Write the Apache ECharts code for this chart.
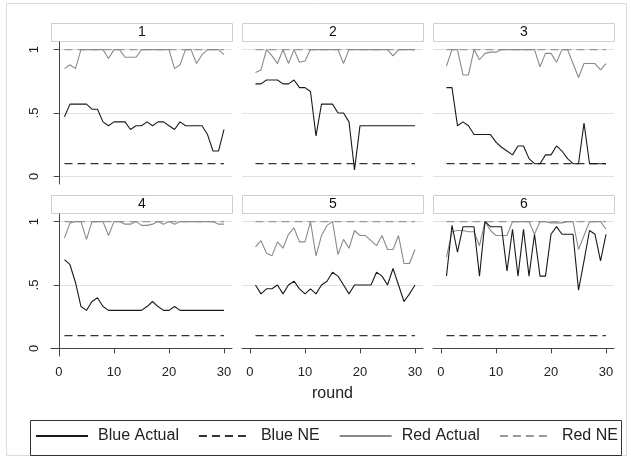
<!DOCTYPE html>
<html>
<head>
<meta charset="utf-8">
<script src="https://cdn.jsdelivr.net/npm/echarts@6/dist/echarts.min.js"></script>
<style>
  html, body { margin: 0; padding: 0; background: #fff; }
  #chart { width: 631px; height: 460px; }
</style>
</head>
<body>
<div id="chart"></div>
<script>
// rounds on the x axis
const rounds = [1, 2, 3, 4, 5, 6, 7, 8, 9, 10, 11, 12, 13, 14, 15, 16, 17, 18, 19, 20, 21, 22, 23, 24, 25, 26, 27, 28, 29, 30];
const panelNames = ['1', '2', '3', '4', '5', '6'];
const xTicks = [0, 10, 20, 30];
const yTicks = [0, 0.5, 1];

const blueNE = 0.1;
const redNE = 1;

const blue1 = [0.47, 0.57, 0.57, 0.57, 0.57, 0.53, 0.53, 0.43, 0.40, 0.43, 0.43, 0.43, 0.37, 0.40, 0.40, 0.43, 0.40, 0.43, 0.43, 0.40, 0.37, 0.43, 0.40, 0.40, 0.40, 0.40, 0.33, 0.20, 0.20, 0.37];
const red1 = [0.85, 0.88, 0.85, 1, 1, 1, 1, 1, 0.93, 1, 1, 0.94, 0.94, 0.94, 1, 1, 1, 1, 1, 1, 0.85, 0.88, 1, 1, 0.89, 0.96, 1, 1, 1, 0.96];

const blue2 = [0.73, 0.73, 0.76, 0.76, 0.76, 0.73, 0.73, 0.76, 0.70, 0.70, 0.67, 0.32, 0.57, 0.57, 0.57, 0.50, 0.50, 0.43, 0.05, 0.40, 0.40, 0.40, 0.40, 0.40, 0.40, 0.40, 0.40, 0.40, 0.40, 0.40];
const red2 = [0.82, 0.84, 1, 0.95, 0.89, 1, 0.89, 1, 0.90, 0.91, 1, 1, 1, 1, 1, 1, 0.89, 1, 1, 1, 1, 1, 1, 1, 1, 0.95, 1, 1, 1, 1];

const blue3 = [0.70, 0.70, 0.40, 0.43, 0.40, 0.33, 0.33, 0.33, 0.33, 0.27, 0.23, 0.20, 0.17, 0.24, 0.24, 0.14, 0.10, 0.10, 0.17, 0.17, 0.24, 0.20, 0.14, 0.10, 0.10, 0.42, 0.10, 0.10, 0.10, 0.10];
const red3 = [0.87, 1, 1, 0.80, 0.80, 1, 0.92, 0.97, 0.98, 0.98, 1, 1, 1, 1, 1, 1, 1, 0.865, 0.97, 0.97, 0.90, 1, 1, 0.89, 0.78, 0.89, 0.89, 0.89, 0.84, 0.89];

const blue4 = [0.70, 0.66, 0.52, 0.33, 0.30, 0.37, 0.40, 0.33, 0.30, 0.30, 0.30, 0.30, 0.30, 0.30, 0.30, 0.33, 0.37, 0.33, 0.30, 0.30, 0.33, 0.30, 0.30, 0.30, 0.30, 0.30, 0.30, 0.30, 0.30, 0.30];
const red4 = [0.87, 0.99, 1, 1, 0.86, 1, 1, 1, 0.89, 1, 1, 0.98, 0.98, 1, 0.97, 0.97, 0.98, 1, 0.98, 1, 0.98, 1, 1, 1, 1, 1, 1, 1, 0.98, 0.98];

const blue5 = [0.50, 0.43, 0.47, 0.47, 0.50, 0.43, 0.50, 0.53, 0.47, 0.43, 0.47, 0.43, 0.50, 0.53, 0.60, 0.57, 0.50, 0.43, 0.50, 0.50, 0.50, 0.50, 0.60, 0.57, 0.50, 0.63, 0.50, 0.37, 0.43, 0.50];
const red5 = [0.80, 0.85, 0.75, 0.73, 0.84, 0.79, 0.90, 0.95, 0.84, 0.84, 1, 0.73, 0.89, 0.97, 1, 0.74, 0.86, 0.79, 0.93, 0.89, 0.89, 0.85, 0.81, 0.89, 0.78, 0.78, 0.89, 0.67, 0.67, 0.78];

const blue6 = [0.57, 0.97, 0.76, 0.96, 0.96, 0.96, 0.57, 1, 0.96, 0.96, 0.96, 0.61, 0.94, 0.57, 0.94, 0.57, 0.90, 0.57, 0.57, 0.90, 0.96, 0.90, 0.90, 0.90, 0.46, 0.69, 0.93, 0.90, 0.69, 0.90];
const red6 = [0.72, 0.92, 0.93, 0.93, 0.92, 0.92, 0.81, 1, 0.93, 0.89, 0.89, 0.89, 1, 1, 1, 1, 0.90, 1, 1, 0.99, 0.99, 0.99, 1, 1, 0.78, 0.89, 1, 1, 1, 0.94];

const blueSets = [blue1, blue2, blue3, blue4, blue5, blue6];
const redSets = [red1, red2, red3, red4, red5, red6];

// layout (pixels)
const colLeft = [51, 242, 433];
const rowTop = [42, 214];
const panelW = 181;
const panelH = 142;
const stripH = 19;
const font = "'Liberation Sans', Arial, sans-serif";

const chart = echarts.init(document.getElementById('chart'));

const grids = [], xAxes = [], yAxes = [], series = [], graphics = [];

// outer frame
graphics.push({
    type: 'rect', left: 6, top: 3, z: -10,
    shape: { width: 620, height: 452 },
    style: { fill: '#fff', stroke: '#dcdcdc', lineWidth: 1 }
});
// legend frame
graphics.push({
    type: 'rect', left: 28, top: 418,
    shape: { width: 591, height: 35 },
    style: { fill: 'none', stroke: '#333', lineWidth: 1 }
});

panelNames.forEach((name, i) => {
    const row = Math.floor(i / 3);
    const col = i % 3;
    const bottomRow = row === 1;
    const leftCol = col === 0;

    grids.push({ left: colLeft[col], top: rowTop[row], width: panelW, height: panelH });

    // header strip
    graphics.push({
        type: 'group', left: colLeft[col], top: rowTop[row] - stripH,
        children: [
            { type: 'rect', shape: { x: 0, y: 0, width: panelW, height: stripH - 1 },
              style: { fill: '#fff', stroke: '#cfcfcf', lineWidth: 1 } },
            { type: 'text', x: panelW / 2, y: (stripH - 1) / 2,
              style: { text: name, font: '14px ' + font, fill: '#111', align: 'center', verticalAlign: 'middle' } }
        ]
    });

    xAxes.push({
        gridIndex: i, type: 'value', min: -1.45, max: 31.45,
        splitLine: { show: false },
        axisLine: { show: bottomRow, lineStyle: { color: '#444', width: 1 } },
        axisTick: { show: bottomRow, customValues: xTicks, length: 5, lineStyle: { color: '#444' } },
        axisLabel: { show: bottomRow, customValues: xTicks, fontSize: 13, color: '#222', margin: 10, fontFamily: font },
        name: i === 4 ? 'round' : '',
        nameLocation: 'middle', nameGap: 30,
        nameTextStyle: { fontSize: 16, color: '#222', fontFamily: font }
    });

    yAxes.push({
        gridIndex: i, type: 'value', min: -0.06, max: 1.06,
        splitLine: { show: false },
        axisLine: { show: leftCol, lineStyle: { color: '#444', width: 1 } },
        axisTick: { show: leftCol, customValues: yTicks, length: 5, lineStyle: { color: '#444' } },
        axisLabel: {
            show: leftCol, customValues: yTicks, rotate: 90, margin: 10,
            fontSize: 13, color: '#222', fontFamily: font,
            formatter: (v) => (v === 0.5 ? '.5' : String(v))
        }
    });

    // light horizontal grid lines at the y ticks
    series.push({
        name: 'grid', type: 'line', xAxisIndex: i, yAxisIndex: i, data: [], z: 0,
        markLine: {
            silent: true, symbol: 'none', z: 0, animation: false,
            label: { show: false },
            lineStyle: { color: '#e0e0e0', type: 'solid', width: 1 },
            data: yTicks.map((t) => ({ yAxis: t }))
        }
    });

    const common = { type: 'line', xAxisIndex: i, yAxisIndex: i, symbol: 'none', z: 3 };
    series.push(Object.assign({}, common, {
        name: 'Red NE', data: rounds.map((r) => [r, redNE]),
        lineStyle: { color: '#999', width: 1.2, type: [8, 5] }, itemStyle: { color: '#999' }
    }));
    series.push(Object.assign({}, common, {
        name: 'Blue NE', data: rounds.map((r) => [r, blueNE]),
        lineStyle: { color: '#333', width: 1.2, type: [8, 5] }, itemStyle: { color: '#333' }
    }));
    series.push(Object.assign({}, common, {
        name: 'Red Actual', data: rounds.map((r, k) => [r, redSets[i][k]]),
        lineStyle: { color: '#8a8a8a', width: 1.1 }, itemStyle: { color: '#8a8a8a' }
    }));
    series.push(Object.assign({}, common, {
        name: 'Blue Actual', data: rounds.map((r, k) => [r, blueSets[i][k]]),
        lineStyle: { color: '#1a1a1a', width: 1.1 }, itemStyle: { color: '#1a1a1a' }
    }));
});

chart.setOption({
    animation: false,
    backgroundColor: '#fff',
    textStyle: { fontFamily: font },
    grid: grids,
    xAxis: xAxes,
    yAxis: yAxes,
    legend: {
        data: ['Blue Actual', 'Blue NE', 'Red Actual', 'Red NE'],
        left: 35, top: 428, padding: 0,
        itemWidth: 52, itemHeight: 12, itemGap: 19,
        selectedMode: false,
        itemStyle: { opacity: 0 },
        textStyle: { fontSize: 16, color: '#222', fontFamily: font, padding: [0, 0, 0, 5] }
    },
    graphic: graphics,
    series: series
});
</script>
</body>
</html>
